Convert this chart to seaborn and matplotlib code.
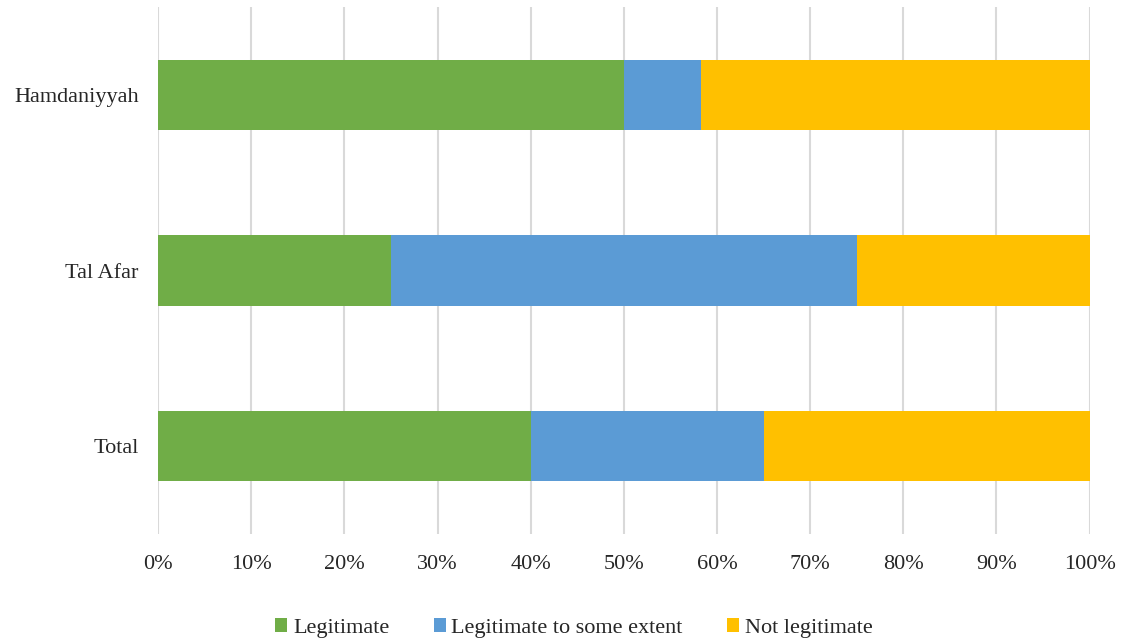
import matplotlib
matplotlib.use("Agg")
import matplotlib.pyplot as plt
import seaborn as sns
import numpy as np
import pandas as pd
from matplotlib.patches import Patch
from matplotlib.ticker import PercentFormatter

categories = ["Hamdaniyyah", "Tal Afar", "Total"]
legitimate = [50.0, 25.0, 40.0]
some_extent = [8.3, 50.0, 25.0]
not_legitimate = [41.7, 25.0, 35.0]
series_names = ["Legitimate", "Legitimate to some extent", "Not legitimate"]
colors = ["#70AD47", "#5B9BD5", "#FFC000"]
x_ticks = list(range(0, 101, 10))

sns.set_theme(style="white")
plt.rcParams["font.family"] = ["Liberation Serif", "DejaVu Serif"]

df = pd.DataFrame({
    "category": categories,
    "legitimate": legitimate,
    "some_extent": some_extent,
    "not_legitimate": not_legitimate,
})
# cumulative right edges of each stacked segment
df["c1"] = df["legitimate"]
df["c2"] = df["c1"] + df["some_extent"]
df["c3"] = df["c2"] + df["not_legitimate"]

fig = plt.figure(figsize=(11.21, 6.43), dpi=100)
ax = fig.add_axes([0.141, 0.1695, 0.831, 0.8195])

for col, color in zip(["c3", "c2", "c1"], colors[::-1]):
    sns.barplot(data=df, x=col, y="category", order=categories, orient="h",
                color=color, width=0.4, saturation=1, linewidth=0,
                ax=ax, zorder=2)

ax.set_xlim(0, 100)
ax.set_ylim(2.5, -0.5)
ax.set_xticks(x_ticks)
ax.xaxis.set_major_formatter(PercentFormatter(decimals=0))
ax.set_xlabel("")
ax.set_ylabel("")
ax.grid(axis="x", color="#D9D9D9", linewidth=1.5, zorder=0)
ax.grid(axis="y", visible=False)
for s in ax.spines.values():
    s.set_visible(False)
ax.tick_params(axis="both", length=0, labelsize=16)
ax.tick_params(axis="x", pad=15)
ax.tick_params(axis="y", pad=14)
for lab in ax.get_yticklabels() + ax.get_xticklabels():
    lab.set_color("#262626")

handles = [Patch(facecolor=c, edgecolor="none") for c in colors]
fig.legend(handles, series_names, loc="center", bbox_to_anchor=(0.512, 0.023),
           ncol=3, frameon=False, fontsize=16, handlelength=0.55, handleheight=0.55,
           handletextpad=0.25, columnspacing=2.0, labelcolor="#262626")

fig.savefig("out.png", dpi=100)
